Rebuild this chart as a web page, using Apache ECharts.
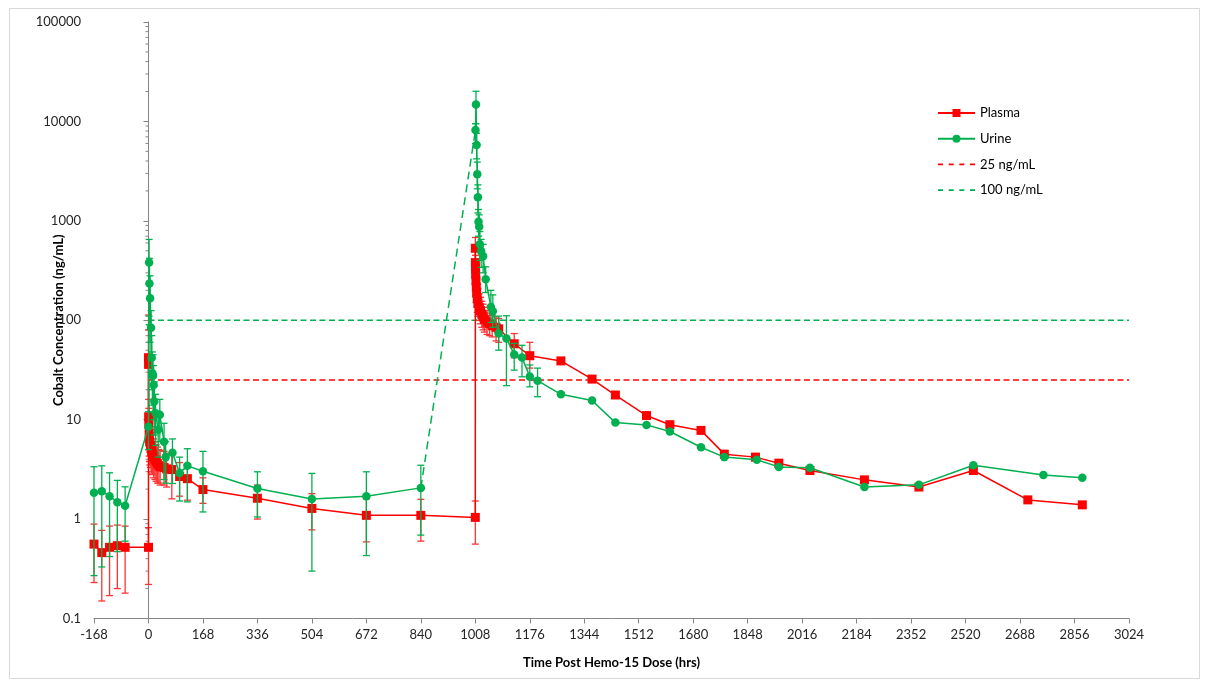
<!DOCTYPE html>
<html>
<head>
<meta charset="utf-8">
<script src="https://cdn.jsdelivr.net/npm/echarts@6/dist/echarts.min.js"></script>
<style>
html,body{margin:0;padding:0;background:#fff;}
#chart{width:1205px;height:681px;}
</style>
</head>
<body>
<div id="chart"></div>
<script>
// ---------------- DATA ----------------
const plasmaTime = [-168,-144,-120,-96,-72,0,0.08,0.25,0.5,1,2,3,4,6,8,10,12,16,20,24,28,32,36,48,56,72,96,120,168,336,504,672,840,1008,
  1008.08,1008.25,1008.5,1009,1010,1011,1012,1014,1016,1020,1024,1028,1032,1036,1044,1052,1060,1072,1080,1128,1176,1272,1368,1440,1536,1608,1704,1776,1872,1944,2040,2208,2376,2544,2712,2880];
const plasmaConc = [0.56,0.46,0.52,0.54,0.52,0.52,42,36,10.7,9.0,7.2,6.4,6.0,5.5,5.1,4.8,4.5,4.2,4.0,3.8,3.6,3.45,3.35,3.3,3.2,3.15,2.68,2.55,1.98,1.62,1.28,1.09,1.09,1.04,
  530,380,330,290,250,215,190,165,150,135,125,115,108,102,96,92,88,85,82,58,44,39,25.6,17.7,11.0,8.9,7.8,4.5,4.2,3.65,3.08,2.48,2.1,3.08,1.56,1.39];
const plasmaHigh = [0.89,0.77,0.85,0.87,0.85,0.82,113,80,16,13,11,10,9.2,8.5,8.0,7.4,7.0,6.4,6.0,5.6,5.3,5.0,4.9,4.8,4.6,4.4,3.7,3.6,2.6,2.2,1.8,1.6,1.58,1.52,
  680,520,450,400,340,300,260,230,210,185,170,155,145,135,125,118,112,108,104,73.5,60,null,null,null,null,null,null,null,null,null,null,null,null,null,null,null];
const plasmaLow = [0.23,0.15,0.17,0.20,0.18,0.22,10,8,6,5.5,4.3,3.8,3.5,3.3,3.0,2.9,2.8,2.6,2.5,2.4,2.3,2.3,2.2,2.2,2.1,1.6,1.7,1.55,1.44,1.0,0.78,0.59,0.60,0.56,
  380,260,230,200,170,150,135,120,110,100,92,85,80,76,72,70,68,62,60,42,33,null,null,null,null,null,null,null,null,null,null,null,null,null,null,null];

const urineTime1 = [-168,-144,-120,-96,-72,0,2,3,5,8,10,12,14,16,18,22,30,35,48,53,74,96,120,168,336,504,672,840];
const urineConc1 = [1.84,1.91,1.70,1.48,1.36,8.5,380,234,166,84,42,29.3,27.6,22.3,15.2,11.6,7.9,11.2,6.0,4.2,4.64,2.9,3.43,3.03,2.03,1.59,1.70,2.06];
const urineHigh1 = [3.36,3.43,2.92,2.45,2.11,12,650,420,280,125,70,48,45,35,24,18,11.5,16,9.2,6.0,6.4,4.2,5.1,4.8,2.99,2.88,2.99,3.48];
const urineLow1  = [0.27,0.33,0.42,0.47,0.60,5,110,90,60,40,20,14,12,10,7,5.5,4.2,6,2.5,2.3,2.28,1.52,1.49,1.18,1.05,0.30,0.43,0.69];

const urineTime2 = [1008.5,1010,1012,1014,1016,1018,1020,1022,1026,1032,1040,1056,1062,1080,1104,1128,1152,1176,1200,1272,1368,1440,1536,1608,1704,1776,1876,1944,2040,2208,2376,2544,2760,2880];
const urineConc2 = [8200,14800,5800,2950,1730,980,870,580,495,440,258,136,123,73.5,65.7,45.3,42.3,27.1,24.7,18.0,15.6,9.34,8.86,7.6,5.28,4.2,3.96,3.35,3.28,2.1,2.21,3.48,2.77,2.6];
const urineHigh2 = [9500,20100,7600,3900,2300,1300,1150,780,650,580,345,200,180,110,111,58.6,56,35.5,33,null,null,null,null,null,null,null,null,null,null,null,null,null,null,null];
const urineLow2  = [6000,9500,4200,2100,1200,700,600,400,340,300,190,95,85,50,22,31.5,27,21.4,17,null,null,null,null,null,null,null,null,null,null,null,null,null,null,null];

const thresholdPlasma = 25;   // ng/mL
const thresholdUrine = 100;   // ng/mL
const thresholdSpan = [0, 3024];

const xMin = -168, xMax = 3024, xStep = 168;
const yMin = 0.1, yMax = 100000;

// ---------------- BUILD ----------------
const RED = '#FF0000', GREEN = '#00B050';
const FONT = 'Lato, "Open Sans", sans-serif';

function pairs(t, v){ return t.map((x,i)=>[x, v[i]]); }
function errs(t, lo, hi){ const out=[]; t.forEach((x,i)=>{ if(hi[i]!=null && lo[i]!=null) out.push([x, lo[i], hi[i]]); }); return out; }

const plasmaData = pairs(plasmaTime, plasmaConc);
const urineData = pairs(urineTime1, urineConc1).concat([['-','-']], pairs(urineTime2, urineConc2));
const urineGap = [[urineTime1[urineTime1.length-1], urineConc1[urineConc1.length-1]], [urineTime2[0], urineConc2[0]]];
const plasmaErr = errs(plasmaTime, plasmaLow, plasmaHigh);
const urineErr = errs(urineTime1, urineLow1, urineHigh1).concat(errs(urineTime2, urineLow2, urineHigh2));

// minor tick positions of the log axis (2..9 x each decade)
const minorTicks = [];
for (let d = -1; d < 5; d++) for (let k = 2; k <= 9; k++) minorTicks.push([0, k * Math.pow(10, d)]);

function errRender(color){
  return function(params, api){
    const x = api.value(0), lo = api.value(1), hi = api.value(2);
    const a = api.coord([x, hi]), b = api.coord([x, lo]);
    const w = 3.5;
    const st = {stroke: color, lineWidth: 1.3};
    return {type:'group', children:[
      {type:'line', shape:{x1:a[0], y1:a[1], x2:b[0], y2:b[1]}, style:st},
      {type:'line', shape:{x1:a[0]-w, y1:a[1], x2:a[0]+w, y2:a[1]}, style:st},
      {type:'line', shape:{x1:b[0]-w, y1:b[1], x2:b[0]+w, y2:b[1]}, style:st}
    ]};
  };
}

function plainNum(v){
  const r = Math.round(v * 1000) / 1000;
  return String(r);
}

const dashIcon = 'path://M0,0h5v1.6h-5z M10.7,0h5v1.6h-5z M21.3,0h5v1.6h-5z M32,0h5v1.6h-5z';

const chart = echarts.init(document.getElementById('chart'), null, {renderer:'canvas'});
chart.setOption({
  animation: false,
  backgroundColor: '#ffffff',
  textStyle: {fontFamily: FONT},
  graphic: [{type:'rect', left:7, top:6, shape:{width:1190, height:670}, style:{fill:'none', stroke:'#D9D9D9', lineWidth:1}, silent:true}],
  grid: {left: 94, right: 76, top: 22, bottom: 62.5, containLabel: false, outerBoundsMode: 'none'},
  legend: {
    orient: 'vertical', left: 932, top: 101.5, itemWidth: 37, itemHeight: 10, itemGap: 12.7,
    textStyle: {fontFamily: FONT, fontSize: 13, color: '#000'},
    data: [
      {name:'Plasma'},
      {name:'Urine'},
      {name:'25 ng/mL', icon: dashIcon, itemStyle:{color: RED, borderWidth:0}},
      {name:'100 ng/mL', icon: dashIcon, itemStyle:{color: GREEN, borderWidth:0}}
    ]
  },
  xAxis: {
    type: 'value', min: xMin, max: xMax, interval: xStep,
    axisLine: {onZero: false, lineStyle: {color: '#868686'}},
    axisTick: {show: true, length: 5, lineStyle: {color: '#868686'}},
    axisLabel: {fontFamily: FONT, fontSize: 13, color: '#262626', margin: 10, formatter: plainNum},
    splitLine: {show: false},
    name: 'Time Post Hemo-15 Dose (hrs)', nameLocation: 'middle', nameGap: 38, nameMoveOverlap: false,
    nameTextStyle: {fontFamily: FONT, fontSize: 13, fontWeight: 'bold', color: '#000'}
  },
  yAxis: {
    type: 'log', logBase: 10, min: yMin, max: yMax,
    axisLine: {show: true, onZero: true, lineStyle: {color: '#868686'}},
    axisTick: {show: true, length: 5, lineStyle: {color: '#868686'}},
    axisLabel: {fontFamily: FONT, fontSize: 13, color: '#262626', margin: 13, formatter: plainNum},
    splitLine: {show: false},
    name: 'Cobalt Concentration (ng/mL)', nameLocation: 'middle', nameGap: 29, nameMoveOverlap: false,
    nameTextStyle: {fontFamily: FONT, fontSize: 13, fontWeight: 'bold', color: '#000'}
  },
  series: [
    {name:'minor', type:'custom', data: minorTicks, silent:true, z:1,
     renderItem: function(params, api){ const p = api.coord([api.value(0), api.value(1)]);
       return {type:'line', shape:{x1:p[0]-3, y1:p[1], x2:p[0], y2:p[1]}, style:{stroke:'#868686', lineWidth:1}}; }},
    {name:'25 ng/mL', type:'line', data: thresholdSpan.map(x=>[x, thresholdPlasma]), symbol:'none', color: RED,
     lineStyle:{color: RED, width:1.5, type:[6,3.5]}, itemStyle:{color:RED}, z:2},
    {name:'100 ng/mL', type:'line', data: thresholdSpan.map(x=>[x, thresholdUrine]), symbol:'none', color: GREEN,
     lineStyle:{color: GREEN, width:1.5, type:[6,3.5]}, itemStyle:{color:GREEN}, z:2},
    {name:'plasmaErr', type:'custom', data: plasmaErr, encode:{x:0, y:[1,2]}, renderItem: errRender('#FF3333'), z:3, silent:true},
    {name:'Plasma', type:'line', data: plasmaData, symbol:'rect', symbolSize:9, showAllSymbol:true, color: RED,
     lineStyle:{color: RED, width:1.5}, itemStyle:{color: RED}, z:4},
    {name:'Urine gap', type:'line', data: urineGap, symbol:'none', lineStyle:{color: GREEN, width:1.5, type:[8,5]}, z:5},
    {name:'urineErr', type:'custom', data: urineErr, encode:{x:0, y:[1,2]}, renderItem: errRender(GREEN), z:5, silent:true},
    {name:'Urine', type:'line', data: urineData, symbol:'circle', symbolSize:8.5, showAllSymbol:true, color: GREEN,
     connectNulls:false, lineStyle:{color: GREEN, width:1.5}, itemStyle:{color: GREEN}, z:6}
  ]
});
</script>
</body>
</html>
